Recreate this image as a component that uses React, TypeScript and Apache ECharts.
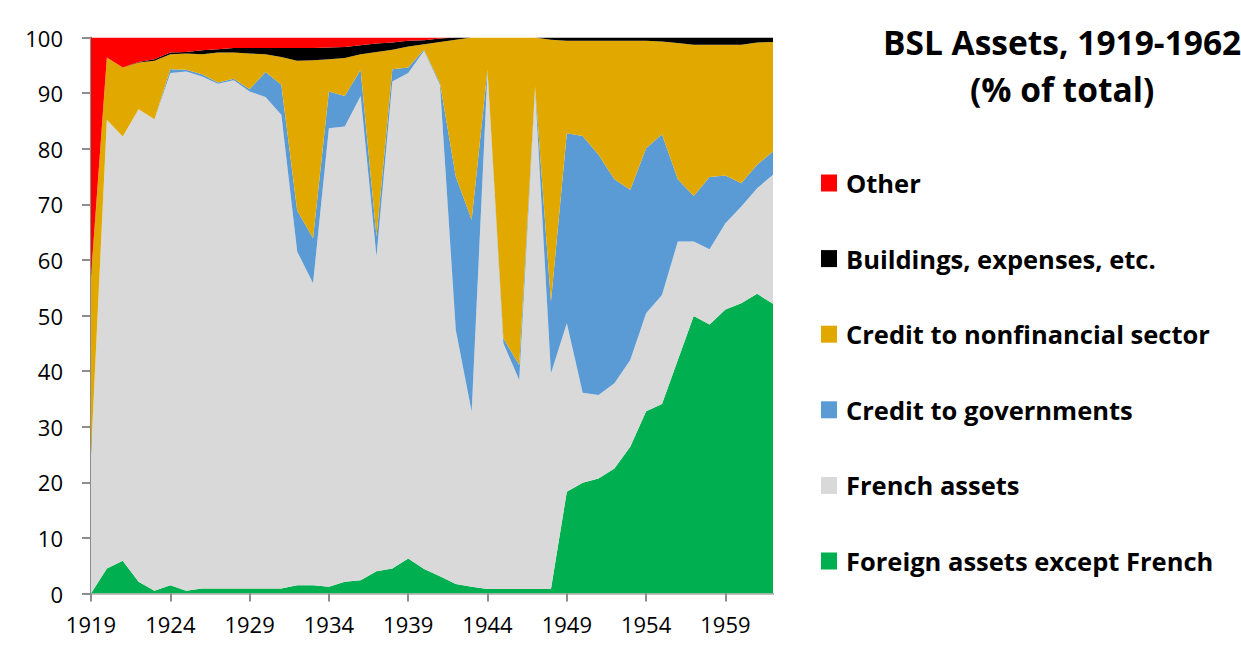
import React, { useEffect, useRef } from "react";
import * as echarts from "echarts";

const years = [
  "1919", "1920", "1921", "1922", "1923", "1924", "1925", "1926", "1927", "1928",
  "1929", "1930", "1931", "1932", "1933", "1934", "1935", "1936", "1937", "1938",
  "1939", "1940", "1941", "1942", "1943", "1944", "1945", "1946", "1947", "1948",
  "1949", "1950", "1951", "1952", "1953", "1954", "1955", "1956", "1957", "1958",
  "1959", "1960", "1961", "1962",
];

const foreignExceptFrench = [
  0, 4.5, 5.9, 2.1, 0.5, 1.5, 0.5, 0.9, 0.9, 0.9,
  0.9, 0.9, 0.9, 1.5, 1.5, 1.2, 2.1, 2.4, 4.0, 4.5,
  6.3, 4.4, 3.1, 1.7, 1.2, 0.8, 0.8, 0.8, 0.8, 0.8,
  18.3, 19.9, 20.7, 22.5, 26.4, 32.8, 34.1, 42.0, 49.9, 48.4,
  51.1, 52.2, 53.9, 52.1,
];

const frenchAssets = [
  25, 80.7, 76.3, 85.0, 84.8, 92.1, 93.4, 92.1, 90.8, 91.4,
  89.4, 88.4, 85.2, 60.0, 54.3, 82.5, 81.9, 87.1, 56.6, 87.6,
  87.3, 93.2, 88.4, 45.7, 31.5, 93.1, 44.2, 37.6, 90.0, 38.8,
  30.3, 16.2, 15.0, 15.3, 15.6, 17.6, 19.6, 21.3, 13.4, 13.5,
  15.5, 17.4, 19.0, 23.2,
];

const creditGovernments = [
  0, 0, 0, 0, 0, 0.7, 0.3, 0.4, 0.2, 0.3,
  0.4, 4.5, 5.4, 7.4, 8.1, 6.6, 5.5, 4.7, 3.6, 2.2,
  1.0, 0.2, 0.3, 27.6, 34.5, 0.3, 0.9, 2.7, 0.4, 12.9,
  34.2, 46.2, 43.2, 36.7, 30.6, 29.7, 28.9, 11.2, 8.2, 13.0,
  8.6, 4.2, 4.2, 4.2,
];

const creditNonfinancial = [
  32, 11.2, 12.4, 8.4, 10.5, 2.7, 2.9, 3.6, 5.4, 4.7,
  6.4, 3.2, 5.0, 26.9, 32.0, 5.8, 6.8, 2.8, 33.2, 3.5,
  3.8, 1.0, 7.4, 24.6, 32.8, 5.8, 54.1, 58.9, 8.8, 47.1,
  16.6, 17.1, 20.5, 24.9, 26.8, 19.3, 16.7, 24.5, 27.2, 23.8,
  23.5, 24.9, 22.0, 19.7,
];

const buildingsExpenses = [
  0, 0, 0, 0.1, 0.3, 0.3, 0.3, 0.7, 0.6, 0.8,
  1.0, 1.1, 1.6, 2.3, 2.2, 2.1, 2.0, 1.6, 1.5, 1.3,
  1.0, 0.7, 0.6, 0.4, 0, 0, 0, 0, 0, 0.4,
  0.6, 0.6, 0.6, 0.6, 0.6, 0.6, 0.7, 1.0, 1.3, 1.3,
  1.3, 1.3, 0.9, 0.8,
];

const other = [
  43, 3.6, 5.4, 4.4, 3.9, 2.7, 2.6, 2.3, 2.1, 1.9,
  1.9, 1.9, 1.9, 1.9, 1.9, 1.8, 1.7, 1.4, 1.1, 0.9,
  0.6, 0.5, 0.2, 0, 0, 0, 0, 0, 0, 0,
  0, 0, 0, 0, 0, 0, 0, 0, 0, 0,
  0, 0, 0, 0,
];

const seriesDefs = [
  { name: "Foreign assets except French", data: foreignExceptFrench, color: "#00B050" },
  { name: "French assets", data: frenchAssets, color: "#D9D9D9" },
  { name: "Credit to governments", data: creditGovernments, color: "#5B9BD5" },
  { name: "Credit to nonfinancial sector", data: creditNonfinancial, color: "#E1A900" },
  { name: "Buildings, expenses, etc.", data: buildingsExpenses, color: "#000000" },
  { name: "Other", data: other, color: "#FF0000" },
];

const legendOrder = [
  "Other",
  "Buildings, expenses, etc.",
  "Credit to nonfinancial sector",
  "Credit to governments",
  "French assets",
  "Foreign assets except French",
];

export default function App() {
  const ref = useRef<HTMLDivElement>(null);

  useEffect(() => {
    if (!ref.current) return;
    const chart = echarts.init(ref.current, undefined, { renderer: "svg" });
    chart.setOption({
      animation: false,
      backgroundColor: "#ffffff",
      textStyle: { fontFamily: "Open Sans" },
      grid: { left: 91, right: 468, top: 37.5, bottom: 55.5, containLabel: false },
      graphic: [
        {
          type: "text",
          left: 1063 - 180,
          top: 18,
          style: {
            text: "BSL Assets, 1919-1962\n(% of total)",
            x: 180,
            textAlign: "center",
            fontFamily: "Open Sans",
            fontWeight: "bold",
            fontSize: 33.5,
            lineHeight: 47,
            fill: "#000000",
          },
        },
      ],
      legend: {
        data: legendOrder,
        orient: "vertical",
        left: 821,
        top: 168,
        padding: 0,
        itemWidth: 16,
        itemHeight: 17,
        itemGap: 45.6,
        icon: "rect",
        selectedMode: false,
        textStyle: {
          fontFamily: "Open Sans",
          fontWeight: "bold",
          fontSize: 25.5,
          lineHeight: 30,
          color: "#000000",
          padding: [0, 0, 0, 4],
        },
      },
      xAxis: [
        {
          type: "category",
          data: years,
          boundaryGap: false,
          axisLine: { show: true, lineStyle: { color: "#8C8C8C", width: 2 } },
          axisTick: {
            show: true,
            interval: 4,
            length: 8,
            inside: false,
            lineStyle: { color: "#8C8C8C", width: 2 },
          },
          axisLabel: {
            interval: 4,
            margin: 19,
            fontFamily: "Open Sans",
            fontSize: 22,
            color: "#000000",
          },
          splitLine: { show: false },
        },
        {
          type: "category",
          data: years,
          boundaryGap: false,
          position: "top",
          axisLine: { show: true, lineStyle: { color: "#BFBFBF", width: 2 } },
          axisTick: { show: false },
          axisLabel: { show: false },
          splitLine: { show: false },
        },
      ],
      yAxis: [
        {
          type: "value",
          position: "left",
          min: 0,
          max: 100,
          interval: 10,
          axisLine: { show: true, lineStyle: { color: "#8C8C8C", width: 2 } },
          axisTick: {
            show: true,
            length: 9,
            inside: false,
            lineStyle: { color: "#8C8C8C", width: 2 },
          },
          axisLabel: { show: false },
          splitLine: { show: false },
        },
        {
          type: "value",
          position: "left",
          offset: 20,
          min: 0,
          max: 100,
          interval: 10,
          axisLine: { show: false },
          axisTick: { show: false },
          axisLabel: {
            show: true,
            margin: 8,
            fontFamily: "Open Sans",
            fontSize: 22,
            color: "#000000",
          },
          splitLine: { show: false },
        },
      ],
      series: seriesDefs.map((s) => ({
        name: s.name,
        type: "line",
        stack: "total",
        yAxisIndex: 0,
        data: s.data,
        symbol: "none",
        showSymbol: false,
        itemStyle: { color: s.color },
        lineStyle: { width: 0, color: s.color },
        areaStyle: { color: s.color, opacity: 1 },
        emphasis: { disabled: true },
      })),
    });
    return () => {
      chart.dispose();
    };
  }, []);

  return (
    <div
      ref={ref}
      style={{ position: "absolute", left: 0, top: 0, width: 1241, height: 649 }}
    />
  );
}
